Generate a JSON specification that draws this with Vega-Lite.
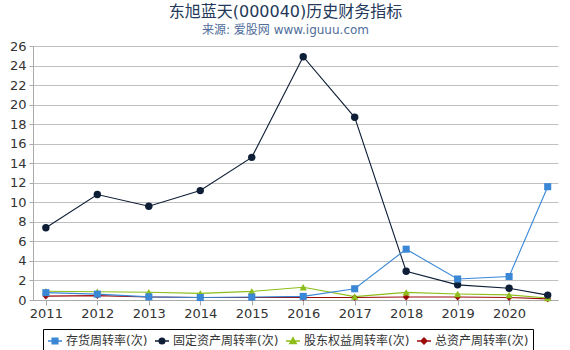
{
  "$schema": "https://vega.github.io/schema/vega-lite/v6.json",
  "width": 525,
  "height": 254,
  "autosize": "none",
  "padding": {"left": 33, "top": 46, "right": 12, "bottom": 50},
  "background": "white",
  "title": {
    "text": "东旭蓝天(000040)历史财务指标",
    "subtitle": "来源: 爱股网 www.iguuu.com",
    "anchor": "middle",
    "dx": -10,
    "offset": 4,
    "font": "DejaVu Sans, Noto Sans CJK SC",
    "fontSize": 16,
    "fontWeight": "normal",
    "color": "#24395a",
    "subtitleFont": "DejaVu Sans, Noto Sans CJK SC",
    "subtitleFontSize": 12,
    "subtitleColor": "#4f6d9a",
    "subtitlePadding": 5
  },
  "data": {
    "values": [
      {"year": 2011, "series": "总资产周转率(次)", "value": 0.4},
      {"year": 2012, "series": "总资产周转率(次)", "value": 0.45},
      {"year": 2013, "series": "总资产周转率(次)", "value": 0.3},
      {"year": 2014, "series": "总资产周转率(次)", "value": 0.25},
      {"year": 2015, "series": "总资产周转率(次)", "value": 0.25},
      {"year": 2016, "series": "总资产周转率(次)", "value": 0.25},
      {"year": 2017, "series": "总资产周转率(次)", "value": 0.25},
      {"year": 2018, "series": "总资产周转率(次)", "value": 0.3},
      {"year": 2019, "series": "总资产周转率(次)", "value": 0.3},
      {"year": 2020, "series": "总资产周转率(次)", "value": 0.25},
      {"year": 2020.75, "series": "总资产周转率(次)", "value": 0.12},
      {"year": 2011, "series": "股东权益周转率(次)", "value": 0.9},
      {"year": 2012, "series": "股东权益周转率(次)", "value": 0.85},
      {"year": 2013, "series": "股东权益周转率(次)", "value": 0.8},
      {"year": 2014, "series": "股东权益周转率(次)", "value": 0.68},
      {"year": 2015, "series": "股东权益周转率(次)", "value": 0.88},
      {"year": 2016, "series": "股东权益周转率(次)", "value": 1.3},
      {"year": 2017, "series": "股东权益周转率(次)", "value": 0.35},
      {"year": 2018, "series": "股东权益周转率(次)", "value": 0.78},
      {"year": 2019, "series": "股东权益周转率(次)", "value": 0.62},
      {"year": 2020, "series": "股东权益周转率(次)", "value": 0.52},
      {"year": 2020.75, "series": "股东权益周转率(次)", "value": 0.2},
      {"year": 2011, "series": "固定资产周转率(次)", "value": 7.4},
      {"year": 2012, "series": "固定资产周转率(次)", "value": 10.8},
      {"year": 2013, "series": "固定资产周转率(次)", "value": 9.6},
      {"year": 2014, "series": "固定资产周转率(次)", "value": 11.2},
      {"year": 2015, "series": "固定资产周转率(次)", "value": 14.6},
      {"year": 2016, "series": "固定资产周转率(次)", "value": 24.9},
      {"year": 2017, "series": "固定资产周转率(次)", "value": 18.7},
      {"year": 2018, "series": "固定资产周转率(次)", "value": 2.95},
      {"year": 2019, "series": "固定资产周转率(次)", "value": 1.55},
      {"year": 2020, "series": "固定资产周转率(次)", "value": 1.2},
      {"year": 2020.75, "series": "固定资产周转率(次)", "value": 0.5},
      {"year": 2011, "series": "存货周转率(次)", "value": 0.75},
      {"year": 2012, "series": "存货周转率(次)", "value": 0.6},
      {"year": 2013, "series": "存货周转率(次)", "value": 0.32},
      {"year": 2014, "series": "存货周转率(次)", "value": 0.25},
      {"year": 2015, "series": "存货周转率(次)", "value": 0.3},
      {"year": 2016, "series": "存货周转率(次)", "value": 0.37},
      {"year": 2017, "series": "存货周转率(次)", "value": 1.15},
      {"year": 2018, "series": "存货周转率(次)", "value": 5.2},
      {"year": 2019, "series": "存货周转率(次)", "value": 2.15},
      {"year": 2020, "series": "存货周转率(次)", "value": 2.4},
      {"year": 2020.75, "series": "存货周转率(次)", "value": 11.6}
    ]
  },
  "encoding": {
    "x": {
      "field": "year",
      "type": "quantitative",
      "scale": {"domain": [2010.75, 2020.95], "nice": false, "zero": false},
      "axis": {
        "title": null,
        "values": [2011, 2012, 2013, 2014, 2015, 2016, 2017, 2018, 2019, 2020],
        "format": "d",
        "grid": false,
        "domainColor": "#aaaaaa",
        "tickColor": "#aaaaaa",
        "tickSize": 5,
        "labelFont": "DejaVu Sans",
        "labelFontSize": 13,
        "labelColor": "#333333",
        "labelPadding": 2
      }
    },
    "y": {
      "field": "value",
      "type": "quantitative",
      "scale": {"domain": [0, 26], "nice": false},
      "axis": {
        "title": null,
        "values": [0, 2, 4, 6, 8, 10, 12, 14, 16, 18, 20, 22, 24, 26],
        "grid": true,
        "gridColor": "#c0c0c0",
        "domainColor": "#aaaaaa",
        "tickColor": "#aaaaaa",
        "tickSize": 4,
        "labelFont": "DejaVu Sans",
        "labelFontSize": 13,
        "labelColor": "#333333",
        "labelPadding": 3
      }
    },
    "color": {
      "field": "series",
      "type": "nominal",
      "scale": {
        "domain": ["存货周转率(次)", "固定资产周转率(次)", "股东权益周转率(次)", "总资产周转率(次)"],
        "range": ["#3a87d6", "#0e1e36", "#8cbd1a", "#9c0a0a"]
      },
      "legend": {
        "title": null,
        "orient": "none",
        "legendX": 10,
        "legendY": 283,
        "direction": "horizontal",
        "columns": 4,
        "columnPadding": 4,
        "strokeColor": "#000000",
        "padding": 4,
        "labelFont": "DejaVu Sans, Noto Sans CJK SC",
        "labelFontSize": 12,
        "labelColor": "#333333",
        "labelLimit": 200,
        "labelOffset": 3,
        "symbolSize": 196,
        "encode": {
          "symbols": {
            "update": {
              "shape": {"signal": "datum.value == '存货周转率(次)' ? 'M-1,0H1M-0.4,-0.4H0.4V0.4H-0.4Z' : datum.value == '固定资产周转率(次)' ? 'M-1,0H1M0.4,0A0.4,0.4,0,1,1,-0.4,0A0.4,0.4,0,1,1,0.4,0Z' : datum.value == '股东权益周转率(次)' ? 'M-1,0H1M0,-0.45L0.45,0.35L-0.45,0.35Z' : 'M-1,0H1M0,-0.42L0.42,0L0,0.42L-0.42,0Z'"},
              "fill": {"scale": "color", "field": "value"},
              "stroke": {"scale": "color", "field": "value"},
              "strokeWidth": {"value": 1.5},
              "opacity": {"value": 1},
              "fillOpacity": {"value": 1}
            }
          }
        }
      }
    }
  },
  "layer": [
    {
      "mark": {"type": "line", "strokeWidth": 1.1},
      "encoding": {"detail": {"field": "series"}}
    },
    {
      "transform": [{"filter": "datum.series == '总资产周转率(次)'"}],
      "mark": {"type": "point", "filled": true, "opacity": 1, "size": 45, "shape": "diamond"}
    },
    {
      "transform": [{"filter": "datum.series == '股东权益周转率(次)'"}],
      "mark": {"type": "point", "filled": true, "opacity": 1, "size": 55, "shape": "triangle-up"}
    },
    {
      "transform": [{"filter": "datum.series == '固定资产周转率(次)'"}],
      "mark": {"type": "point", "filled": true, "opacity": 1, "size": 55, "shape": "circle"}
    },
    {
      "transform": [{"filter": "datum.series == '存货周转率(次)'"}],
      "mark": {"type": "point", "filled": true, "opacity": 1, "size": 50, "shape": "square"}
    }
  ],
  "config": {
    "view": {"stroke": null},
    "font": "DejaVu Sans, Noto Sans CJK SC"
  }
}
